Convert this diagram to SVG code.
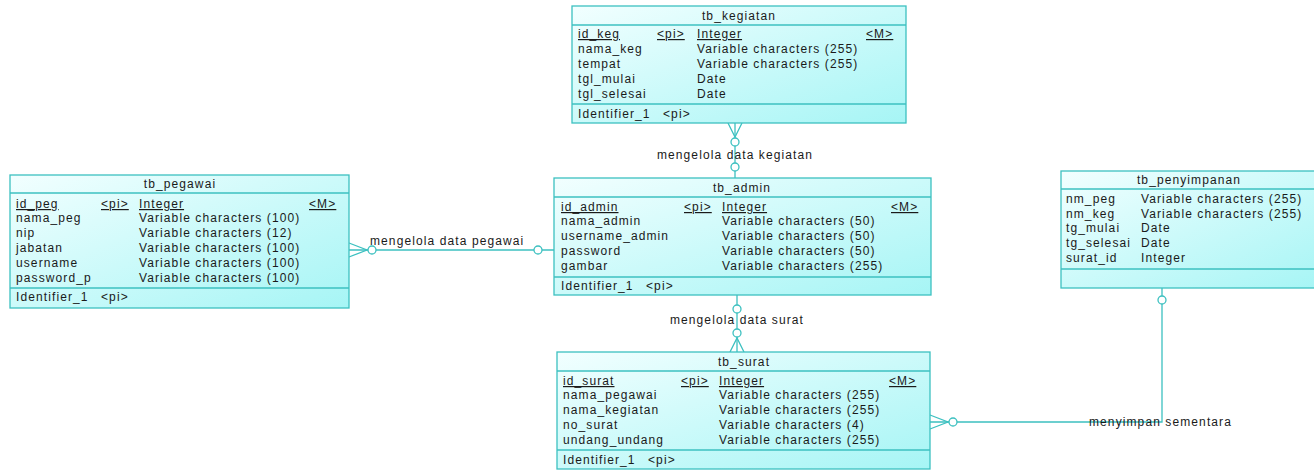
<svg xmlns="http://www.w3.org/2000/svg" width="1314" height="470" viewBox="0 0 1314 470">
<defs>
<linearGradient id="g" x1="0" y1="0" x2="1" y2="1">
<stop offset="0" stop-color="#F2FFFF"/>
<stop offset="1" stop-color="#A6F5F5"/>
</linearGradient>
<style>
.box{fill:url(#g);stroke:#3CC0C0;stroke-width:1.3}
.sep{stroke:#3CC0C0;stroke-width:1.3}
.ln{stroke:#3CC0C0;stroke-width:1.3;fill:none}
.cir{stroke:#3CC0C0;stroke-width:1.3;fill:#fff}
text{font-family:"Liberation Sans",Arial,sans-serif;font-size:12px;letter-spacing:1.1px;fill:#1a1a1a}
.t{text-anchor:middle}
.u{text-decoration:underline}
</style>
</defs>
<rect width="1314" height="470" fill="#fff"/>

<g id="connectors">
<!-- kegiatan - admin -->
<line class="ln" x1="735" y1="123" x2="735" y2="178"/>
<polyline class="ln" points="728,123 735,137 742,123"/>
<circle class="cir" cx="735" cy="142" r="4"/>
<circle class="cir" cx="735" cy="167" r="4"/>
<text class="t" x="735" y="159">mengelola data kegiatan</text>
<!-- pegawai - admin -->
<line class="ln" x1="349" y1="250" x2="554" y2="250"/>
<polyline class="ln" points="349,243 367,250 349,257"/>
<circle class="cir" cx="372" cy="250" r="4"/>
<circle class="cir" cx="538" cy="250" r="4"/>
<text x="370" y="245">mengelola data pegawai</text>
<!-- admin - surat -->
<line class="ln" x1="737" y1="295" x2="737" y2="352"/>
<polyline class="ln" points="730,352 737,338 744,352"/>
<circle class="cir" cx="737" cy="309" r="4"/>
<circle class="cir" cx="737" cy="333" r="4"/>
<text class="t" x="737" y="324">mengelola data surat</text>
<!-- surat - penyimpanan -->
<polyline class="ln" points="930,422 1162,422 1162,288"/>
<polyline class="ln" points="930,415 948,422 930,429"/>
<circle class="cir" cx="953" cy="422" r="4"/>
<circle class="cir" cx="1162" cy="300" r="4"/>
<text x="1089" y="426">menyimpan sementara</text>
</g>

<g id="tb_kegiatan">
<rect class="box" x="572" y="6" width="334" height="117"/>
<line class="sep" x1="572" y1="25" x2="906" y2="25"/>
<line class="sep" x1="572" y1="104" x2="906" y2="104"/>
<text class="t" x="739" y="20">tb_kegiatan</text>
<text class="u" x="578" y="38">id_keg</text><text class="u" x="657" y="38">&lt;pi&gt;</text><text class="u" x="697" y="38">Integer</text><text class="u" x="866" y="38">&lt;M&gt;</text>
<text x="578" y="53">nama_keg</text><text x="697" y="53">Variable characters (255)</text>
<text x="578" y="68">tempat</text><text x="697" y="68">Variable characters (255)</text>
<text x="578" y="83">tgl_mulai</text><text x="697" y="83">Date</text>
<text x="578" y="98">tgl_selesai</text><text x="697" y="98">Date</text>
<text x="578" y="118">Identifier_1</text><text x="663" y="118">&lt;pi&gt;</text>
</g>

<g id="tb_pegawai">
<rect class="box" x="10" y="175" width="339" height="133"/>
<line class="sep" x1="10" y1="193" x2="349" y2="193"/>
<line class="sep" x1="10" y1="288" x2="349" y2="288"/>
<text class="t" x="180" y="188">tb_pegawai</text>
<text class="u" x="16" y="208">id_peg</text><text class="u" x="101" y="208">&lt;pi&gt;</text><text class="u" x="139" y="208">Integer</text><text class="u" x="309" y="208">&lt;M&gt;</text>
<text x="16" y="222">nama_peg</text><text x="139" y="222">Variable characters (100)</text>
<text x="16" y="237">nip</text><text x="139" y="237">Variable characters (12)</text>
<text x="16" y="252">jabatan</text><text x="139" y="252">Variable characters (100)</text>
<text x="16" y="267">username</text><text x="139" y="267">Variable characters (100)</text>
<text x="16" y="282">password_p</text><text x="139" y="282">Variable characters (100)</text>
<text x="16" y="301">Identifier_1</text><text x="101" y="301">&lt;pi&gt;</text>
</g>

<g id="tb_admin">
<rect class="box" x="554" y="178" width="377" height="117"/>
<line class="sep" x1="554" y1="197" x2="931" y2="197"/>
<line class="sep" x1="554" y1="277" x2="931" y2="277"/>
<text class="t" x="742" y="192">tb_admin</text>
<text class="u" x="561" y="211">id_admin</text><text class="u" x="684" y="211">&lt;pi&gt;</text><text class="u" x="722" y="211">Integer</text><text class="u" x="891" y="211">&lt;M&gt;</text>
<text x="561" y="225">nama_admin</text><text x="722" y="225">Variable characters (50)</text>
<text x="561" y="240">username_admin</text><text x="722" y="240">Variable characters (50)</text>
<text x="561" y="255">password</text><text x="722" y="255">Variable characters (50)</text>
<text x="561" y="270">gambar</text><text x="722" y="270">Variable characters (255)</text>
<text x="561" y="290">Identifier_1</text><text x="646" y="290">&lt;pi&gt;</text>
</g>

<g id="tb_surat">
<rect class="box" x="557" y="352" width="373" height="117"/>
<line class="sep" x1="557" y1="371" x2="930" y2="371"/>
<line class="sep" x1="557" y1="450" x2="930" y2="450"/>
<text class="t" x="744" y="366">tb_surat</text>
<text class="u" x="563" y="385">id_surat</text><text class="u" x="681" y="385">&lt;pi&gt;</text><text class="u" x="719" y="385">Integer</text><text class="u" x="889" y="385">&lt;M&gt;</text>
<text x="563" y="399">nama_pegawai</text><text x="719" y="399">Variable characters (255)</text>
<text x="563" y="414">nama_kegiatan</text><text x="719" y="414">Variable characters (255)</text>
<text x="563" y="429">no_surat</text><text x="719" y="429">Variable characters (4)</text>
<text x="563" y="444">undang_undang</text><text x="719" y="444">Variable characters (255)</text>
<text x="563" y="464">Identifier_1</text><text x="648" y="464">&lt;pi&gt;</text>
</g>

<g id="tb_penyimpanan">
<rect class="box" x="1061" y="171" width="260" height="117"/>
<line class="sep" x1="1061" y1="189" x2="1321" y2="189"/>
<line class="sep" x1="1061" y1="269" x2="1321" y2="269"/>
<text class="t" x="1189" y="184">tb_penyimpanan</text>
<text x="1066" y="203">nm_peg</text><text x="1141" y="203">Variable characters (255)</text>
<text x="1066" y="218">nm_keg</text><text x="1141" y="218">Variable characters (255)</text>
<text x="1066" y="232">tg_mulai</text><text x="1141" y="232">Date</text>
<text x="1066" y="247">tg_selesai</text><text x="1141" y="247">Date</text>
<text x="1066" y="262">surat_id</text><text x="1141" y="262">Integer</text>
</g>
</svg>
